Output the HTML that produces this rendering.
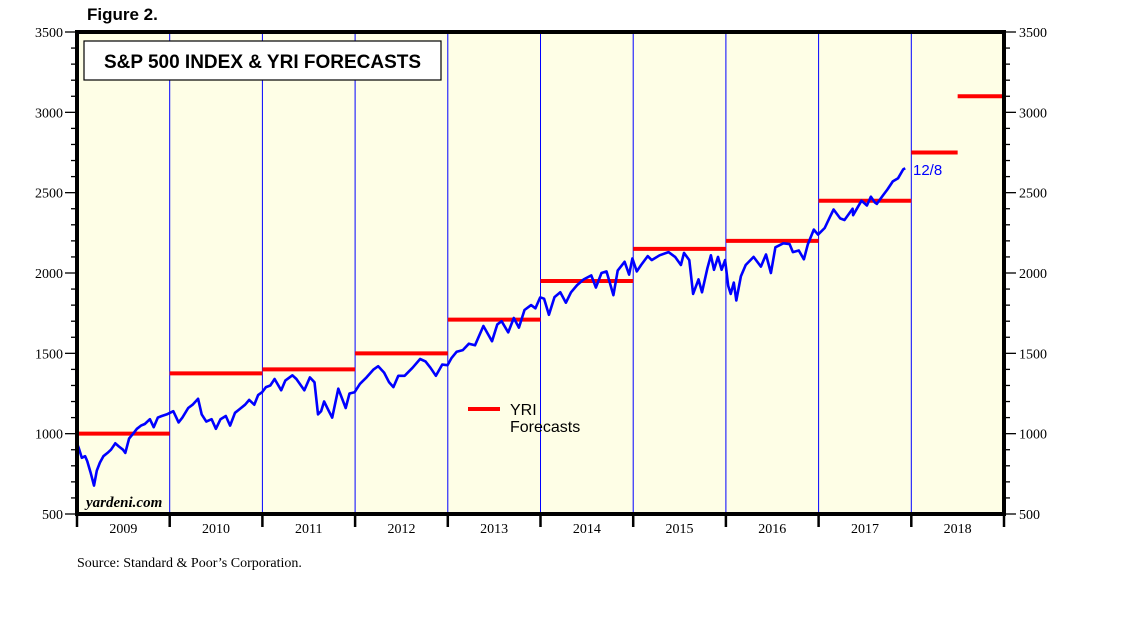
<!DOCTYPE html>
<html><head><meta charset="utf-8"><style>
body{margin:0;background:#fff;width:1138px;height:621px;overflow:hidden}
svg{display:block}
</style></head><body>
<svg id="chart" width="1138" height="621" xmlns="http://www.w3.org/2000/svg" font-family="Liberation Serif, serif">
<text x="87" y="20" font-family="Liberation Sans, sans-serif" font-weight="bold" font-size="17">Figure 2.</text>
<rect x="77" y="32" width="927" height="482" fill="#fefee6"/>
<g id="grid"></g>
<g id="forecasts"></g>
<g id="series"></g>
<g id="axes"></g>
<rect x="84" y="41" width="357" height="39" fill="#fff" stroke="#000" stroke-width="1.2"/>
<text x="262.5" y="68" text-anchor="middle" font-family="Liberation Sans, sans-serif" font-weight="bold" font-size="19">S&amp;P 500 INDEX &amp; YRI FORECASTS</text>
<line x1="468" y1="409" x2="500" y2="409" stroke="#f00" stroke-width="4"/>
<text font-family="Liberation Sans, sans-serif" font-size="16" x="510" y="415">YRI</text>
<text font-family="Liberation Sans, sans-serif" font-size="16" x="510" y="432">Forecasts</text>
<text font-family="Liberation Sans, sans-serif" font-size="15" fill="#00f" x="913" y="175">12/8</text>
<text x="86" y="507" font-style="italic" font-weight="bold" font-size="15">yardeni.com</text>
<text x="77" y="567" font-size="14">Source: Standard &amp; Poor’s Corporation.</text>
</svg>
<script>
const years=[2009,2010,2011,2012,2013,2014,2015,2016,2017,2018];
const yTicks=[500,1000,1500,2000,2500,3000,3500];
const fcStart=[2009,2010,2011,2012,2013,2014,2015,2016,2017,2018,2018.5];
const fcEnd=[2010,2011,2012,2013,2014,2015,2016,2017,2018,2018.5,2019];
const fcValue=[1000,1375,1400,1500,1710,1950,2150,2200,2450,2750,3100];
const dates=["2009-01-01","2009-01-08","2009-01-20","2009-02-02","2009-02-10","2009-02-23","2009-03-09","2009-03-20","2009-04-01","2009-04-15","2009-05-01","2009-05-15","2009-06-01","2009-06-15","2009-07-01","2009-07-10","2009-07-25","2009-08-10","2009-08-25","2009-09-10","2009-09-25","2009-10-15","2009-10-30","2009-11-15","2009-12-01","2009-12-20",
"2010-01-15","2010-02-05","2010-02-20","2010-03-15","2010-04-01","2010-04-23","2010-05-07","2010-05-25","2010-06-15","2010-07-02","2010-07-20","2010-08-10","2010-08-27","2010-09-15","2010-10-01","2010-10-25","2010-11-10","2010-11-30","2010-12-15","2010-12-31",
"2011-01-15","2011-02-01","2011-02-18","2011-03-16","2011-04-01","2011-04-29","2011-05-15","2011-06-15","2011-07-07","2011-07-25","2011-08-08","2011-08-20","2011-09-01","2011-09-20","2011-10-03","2011-10-27","2011-11-25","2011-12-10","2011-12-30",
"2012-01-20","2012-02-15","2012-03-15","2012-04-02","2012-04-25","2012-05-15","2012-06-01","2012-06-20","2012-07-15","2012-08-15","2012-09-14","2012-10-05","2012-10-25","2012-11-15","2012-12-10","2012-12-31",
"2013-01-15","2013-02-05","2013-03-01","2013-03-25","2013-04-18","2013-05-21","2013-06-24","2013-07-15","2013-08-01","2013-08-27","2013-09-18","2013-10-08","2013-10-30","2013-11-25","2013-12-12","2013-12-31",
"2014-01-15","2014-02-03","2014-02-25","2014-03-20","2014-04-11","2014-05-01","2014-05-25","2014-06-20","2014-07-20","2014-08-07","2014-08-29","2014-09-18","2014-10-01","2014-10-15","2014-11-01","2014-11-28","2014-12-16","2014-12-29",
"2015-01-15","2015-02-01","2015-02-27","2015-03-15","2015-04-15","2015-05-20","2015-06-15","2015-07-08","2015-07-20","2015-08-10","2015-08-25","2015-09-15","2015-09-29","2015-10-20","2015-11-03","2015-11-15","2015-12-01","2015-12-15","2015-12-29",
"2016-01-10","2016-01-20","2016-02-01","2016-02-11","2016-03-01","2016-03-20","2016-04-20","2016-05-19","2016-06-08","2016-06-27","2016-07-15","2016-08-15","2016-09-09","2016-09-22","2016-10-15","2016-11-04","2016-11-20","2016-12-13","2016-12-30",
"2017-01-25","2017-02-15","2017-03-01","2017-03-27","2017-04-13","2017-05-15","2017-05-17","2017-06-19","2017-07-10","2017-07-26","2017-08-10","2017-08-18","2017-09-10","2017-09-29","2017-10-20","2017-11-10","2017-11-30","2017-12-08"];
const values=[940,910,850,860,830,760,677,770,820,860,880,900,940,920,900,880,970,1000,1030,1050,1060,1090,1040,1100,1110,1120,
1140,1070,1100,1160,1180,1217,1120,1075,1090,1030,1090,1110,1050,1130,1150,1180,1210,1180,1240,1258,
1290,1300,1340,1270,1330,1363,1340,1270,1350,1320,1120,1140,1200,1140,1100,1280,1160,1250,1258,
1310,1350,1400,1420,1380,1320,1290,1360,1360,1410,1465,1450,1410,1360,1430,1426,
1470,1510,1520,1560,1550,1670,1575,1680,1700,1630,1720,1660,1770,1800,1780,1848,
1840,1740,1850,1880,1815,1880,1925,1960,1985,1910,2000,2010,1940,1862,2015,2070,1990,2090,
2010,2050,2105,2080,2110,2130,2100,2050,2125,2080,1870,1960,1880,2030,2110,2020,2100,2020,2080,
1920,1870,1940,1829,1980,2050,2100,2040,2115,2000,2160,2185,2180,2130,2140,2085,2180,2270,2239,
2280,2350,2395,2340,2330,2400,2360,2450,2420,2475,2440,2430,2480,2520,2570,2590,2645,2652];
const X0=77,X1=1004,Y0=514,Y1=32;
const x=t=>X0+(t-2009)/10*(X1-X0);
const y=v=>Y0-(v-500)/3000*(Y0-Y1);
const NS="http://www.w3.org/2000/svg";
function mk(tag,attrs,parent){const e=document.createElementNS(NS,tag);for(const k in attrs)e.setAttribute(k,attrs[k]);document.getElementById(parent).appendChild(e);return e;}
function frac(s){const [Y,M,D]=s.split("-").map(Number);const cum=[0,31,59,90,120,151,181,212,243,273,304,334];return Y+(cum[M-1]+D-1)/365;}
// year dividers
for(let i=1;i<years.length;i++){const e=mk("line",{x1:x(years[i]),x2:x(years[i]),y1:Y1,y2:Y0,stroke:"#0000ff","stroke-width":1},"grid");

}
// forecasts
for(let i=0;i<fcValue.length;i++){const e=mk("line",{x1:x(fcStart[i]),x2:x(fcEnd[i]),y1:y(fcValue[i]),y2:y(fcValue[i]),stroke:"#ff0000","stroke-width":4},"forecasts");

}
// series
let d="";for(let i=0;i<values.length;i++){d+=(i?"L":"M")+x(frac(dates[i])).toFixed(1)+","+y(values[i]).toFixed(1);}
const p=mk("path",{d:d,fill:"none",stroke:"#0000ff","stroke-width":2.6,"stroke-linejoin":"round"},"series");


// axes frame
const fr=mk("rect",{x:X0,y:Y1,width:X1-X0,height:Y0-Y1,fill:"none",stroke:"#000","stroke-width":4},"axes");


for(let v=500;v<=3500;v+=100){const major=v%500===0;const L=major?12:6;
const a=mk("line",{x1:X0-L,x2:X0,y1:y(v),y2:y(v),stroke:"#000","stroke-width":1.3},"axes");


const b=mk("line",{x1:X1,x2:X1+L,y1:y(v),y2:y(v),stroke:"#000","stroke-width":1.3},"axes");

}
for(const v of yTicks){const t=mk("text",{x:X0-14,y:y(v)+5,"text-anchor":"end","font-size":14},"axes");t.textContent=v;


const t2=mk("text",{x:X1+15,y:y(v)+5,"font-size":14},"axes");t2.textContent=v;

}
for(let i=0;i<=years.length;i++){const e=mk("line",{x1:x(2009+i),x2:x(2009+i),y1:Y0,y2:Y0+13,stroke:"#000","stroke-width":2.5},"axes");

}
for(const yr of years){const t=mk("text",{x:x(yr+0.5),y:Y0+19,"text-anchor":"middle","font-size":14},"axes");t.textContent=yr;

}
</script>
</body></html>
